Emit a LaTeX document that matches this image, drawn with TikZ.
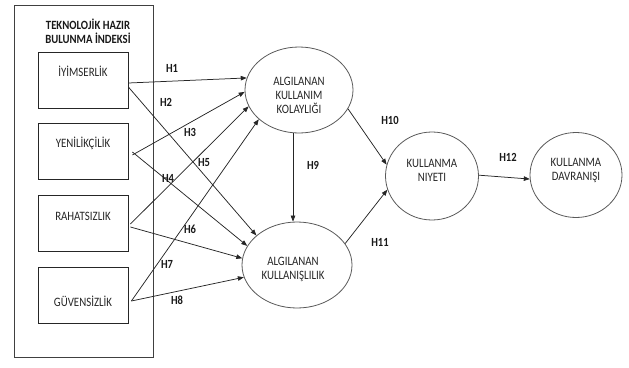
\documentclass[tikz,border=0pt]{standalone}
\usepackage{fontspec}
\setmainfont{Carlito}[FakeStretch=0.85]
\usetikzlibrary{shapes.geometric,arrows.meta}
\begin{document}
\begin{tikzpicture}[x=1pt,y=-1pt,
  every node/.style={font=\fontsize{12.8}{14}\selectfont, text=black!85},
  outerbox/.style={draw=black!75, line width=0.8pt, rectangle, minimum width=139pt, minimum height=352pt, inner sep=0pt},
  inbox/.style={draw=black!85, line width=0.8pt, rectangle, minimum width=90pt, minimum height=56pt, inner sep=0pt},
  oval/.style={draw=black!65, line width=0.8pt, ellipse, inner sep=0pt},
  titletext/.style={font=\fontsize{12.6}{14}\selectfont\bfseries, align=center, text=black!90},
  hyp/.style={font=\fontsize{12.4}{13}\selectfont\bfseries, text=black!90},
  conn/.style={draw=black!85, line width=0.75pt, -{Triangle[length=6pt,width=4.5pt]}}
]
\useasboundingbox (0,0) rectangle (629,367);

% outer container
\node[outerbox] (outer) at (83.5,181) {};
\node[titletext] (title) at (88,31) {TEKNOLOJİK HAZIR\\BULUNMA İNDEKSİ};

% indicator boxes
\node[inbox, label={[anchor=center, yshift=-20pt]north:İYİMSERLİK}] (b1) at (83,80) {};
\node[inbox, label={[anchor=center, yshift=-21pt]north:YENİLİKÇİLİK}] (b2) at (83,151) {};
\node[inbox, label={[anchor=center, yshift=-22pt]north:RAHATSIZLIK}] (b3) at (83,223) {};
\node[inbox, label={[anchor=center, yshift=-35pt]north:GÜVENSİZLİK}] (b4) at (83,295) {};

% constructs
\node[oval, minimum width=108pt, minimum height=86pt,
  label={[anchor=center, yshift=-5pt, align=center]center:ALGILANAN\\KULLANIM\\KOLAYLIĞI}] (ekk) at (299,90) {};
\node[oval, minimum width=110pt, minimum height=86pt,
  label={[anchor=center, yshift=-4.5pt, xshift=-4pt, align=center]center:ALGILANAN\\KULLANIŞLILIK}] (ak) at (297,265) {};
\node[oval, minimum width=93pt, minimum height=88pt,
  label={[anchor=center, yshift=5.5pt, align=center]center:KULLANMA\\NIYETI}] (kn) at (432,176) {};
\node[oval, minimum width=92pt, minimum height=85pt,
  label={[anchor=center, yshift=5pt, align=center]center:KULLANMA\\DAVRANIŞI}] (kd) at (576,175) {};

% connectors to AKK
\draw[conn] ([yshift=-3pt]b1.east) -- (ekk.167.5);
\draw[conn] ([xshift=4pt,yshift=-4pt]b2.east) -- (ekk.182);
\draw[conn] ([xshift=2pt,yshift=-1pt]b3.east) -- (ekk.198);
\draw[conn] ([xshift=3pt,yshift=-6pt]b4.east) -- (ekk.216);
% connectors to AK
\draw[conn] ([yshift=-7pt]b1.east) -- (ak.144.6);
\draw[conn] ([xshift=4pt,yshift=-1pt]b2.east) -- (ak.159);
\draw[conn] ([xshift=2pt,yshift=-4pt]b3.east) -- (ak.173);
\draw[conn] ([xshift=3pt,yshift=-6pt]b4.east) -- (ak.193);
% structural paths
\draw[conn] ([xshift=-6pt]ekk.south) -- ([xshift=-6pt]ekk.south |- ak.north);
\draw[conn] (ekk.339) -- (kn.166);
\draw[conn] (ak.24.6) -- (kn.197);
\draw[conn] (kn.1) -- (kd.185);

% hypothesis labels
\node[hyp] (h1) at (172,68) {H1};
\node[hyp] (h2) at (166,102) {H2};
\node[hyp] (h3) at (190,132) {H3};
\node[hyp] (h4) at (168,178) {H4};
\node[hyp] (h5) at (204,163) {H5};
\node[hyp] (h6) at (190,229) {H6};
\node[hyp] (h7) at (167,264) {H7};
\node[hyp] (h8) at (177,300) {H8};
\node[hyp] (h9) at (313,165) {H9};
\node[hyp] (h10) at (390,120) {H10};
\node[hyp] (h11) at (380,242) {H11};
\node[hyp] (h12) at (508,157) {H12};
\end{tikzpicture}
\end{document}
